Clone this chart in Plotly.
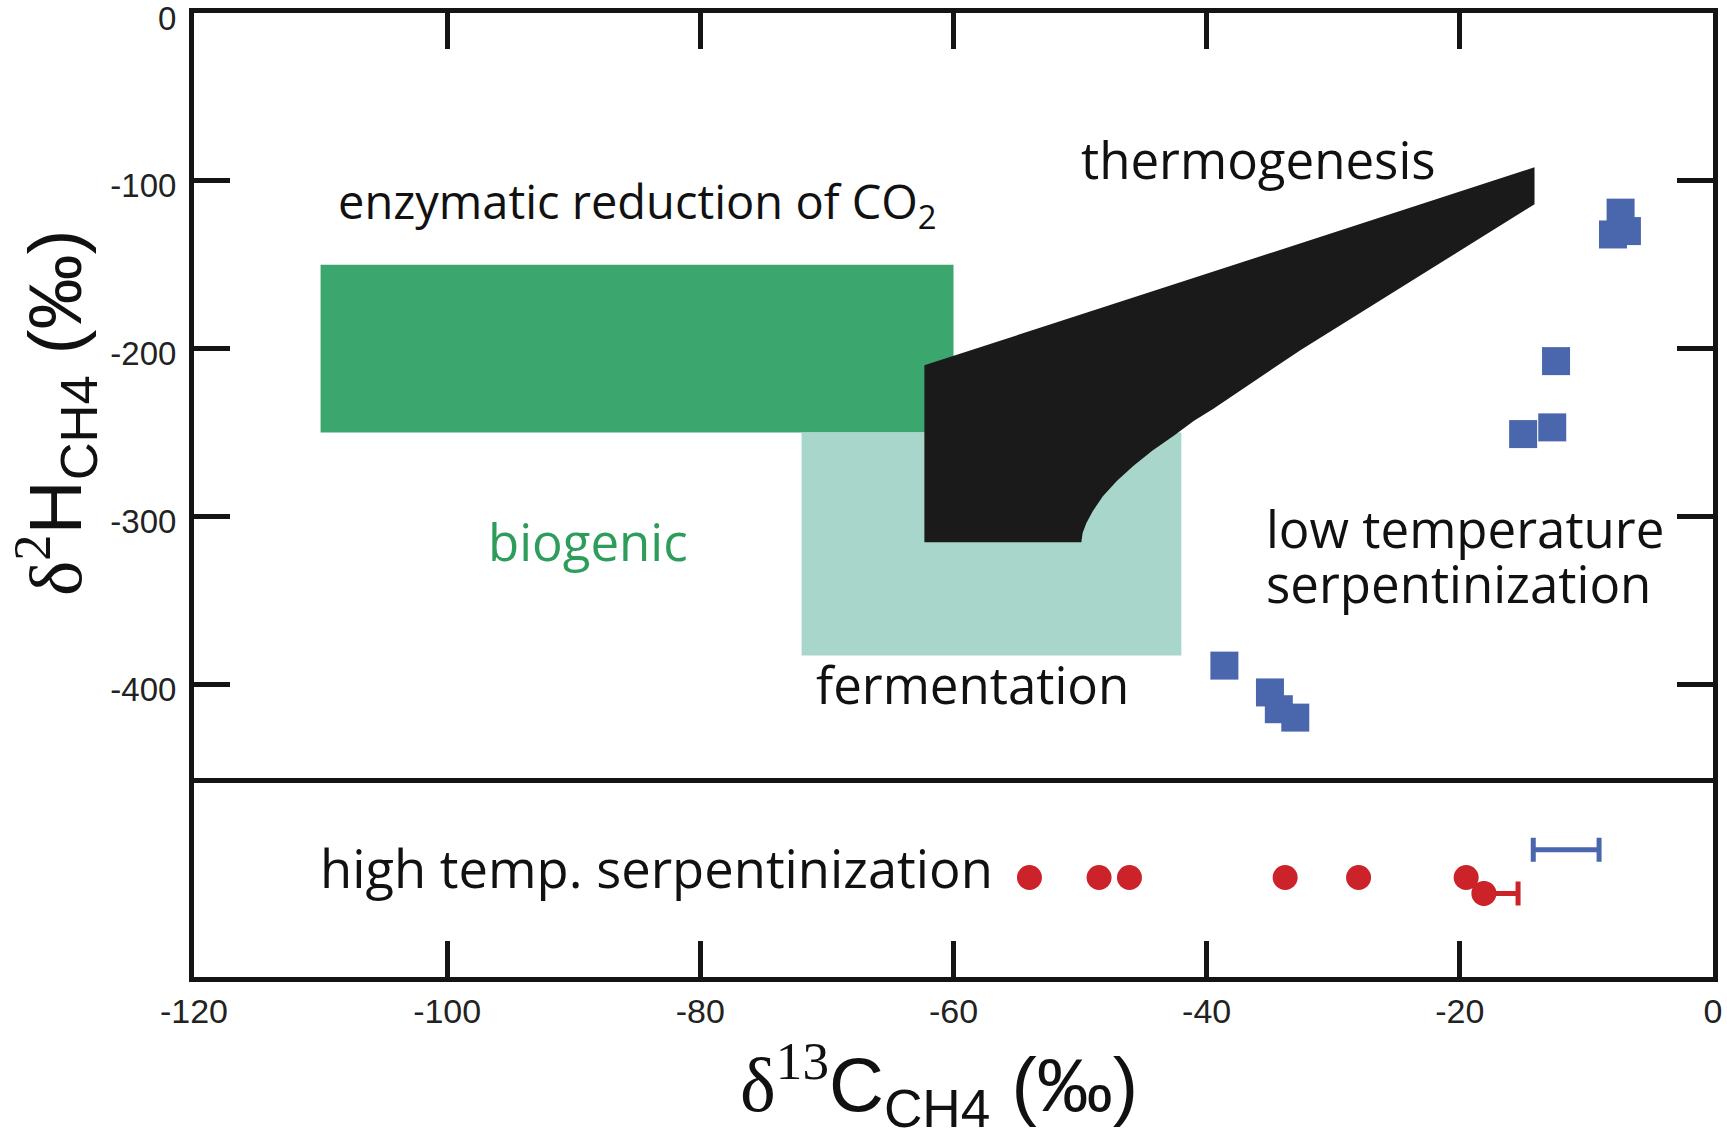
import plotly.graph_objects as go

# ---------------- data ----------------
# field boxes (d13C range, d2H range)
co2_red_c13 = [-110, -60]
co2_red_d2h = [-250, -150]
ferm_c13 = [-72, -42]
ferm_d2h = [-383, -250]

# thermogenesis field outline
thermo_c13 = [-62.3, -62.3, -14.1, -14.1, -32.6, -39.5, -41.0, -42.6, -44.3, -45.8,
              -47.1, -48.2, -49.0, -49.5, -49.8, -49.9]
thermo_d2h = [-315.5, -210, -92, -114, -201, -236, -243, -252, -261, -270,
              -279, -288, -297, -304, -310, -315.5]

# low temperature serpentinization samples
lt_c13 = [-7.3, -7.9, -6.8, -12.4, -15.0, -12.7, -38.6, -35.0, -34.3, -33.0]
lt_d2h = [-119, -132, -130, -207.5, -251, -247, -389, -405, -415, -420]

# high temperature serpentinization samples (d13C only)
ht_c13 = [-54.0, -48.5, -46.1, -33.8, -28.0, -19.5]
ht_row = [0.5, 0.5, 0.5, 0.5, 0.5, 0.5]
# sample with analytical uncertainty
ht_err_c13 = [-18.1]
ht_err_plus = [2.7]
ht_err_row = [0.42]

# range bar (no marker)
bar_c13 = [-11.6]
bar_err = [2.6]
bar_row = [0.64]

x_ticks = [-120, -100, -80, -60, -40, -20, 0]
x_ticktext = ["-120", "-100", "-80", "-60", "-40", "-20", "0"]
y_ticks = [0, -100, -200, -300, -400]
y_ticktext = ["0", "-100", "-200", "-300", "-400"]

# ---------------- styles ----------------
DARK_GREEN = "#3ba66e"
LIGHT_TEAL = "#a9d6cb"
BLACK = "#1a1a1a"
BLUE = "#4a66ac"
RED = "#cc2229"
AX = "#141414"
LABEL_FONT = "Open Sans"
TICK_FONT = "Liberation Sans"

fig = go.Figure()

# boxes
fig.add_trace(go.Scatter(
    x=[co2_red_c13[0], co2_red_c13[1], co2_red_c13[1], co2_red_c13[0], co2_red_c13[0]],
    y=[co2_red_d2h[0], co2_red_d2h[0], co2_red_d2h[1], co2_red_d2h[1], co2_red_d2h[0]],
    fill="toself", fillcolor=DARK_GREEN, mode="lines", line=dict(width=0, color=DARK_GREEN),
    xaxis="x", yaxis="y", showlegend=False, hoverinfo="skip"))
fig.add_trace(go.Scatter(
    x=[ferm_c13[0], ferm_c13[1], ferm_c13[1], ferm_c13[0], ferm_c13[0]],
    y=[ferm_d2h[0], ferm_d2h[0], ferm_d2h[1], ferm_d2h[1], ferm_d2h[0]],
    fill="toself", fillcolor=LIGHT_TEAL, mode="lines", line=dict(width=0, color=LIGHT_TEAL),
    xaxis="x", yaxis="y", showlegend=False, hoverinfo="skip"))
fig.add_trace(go.Scatter(
    x=thermo_c13 + [thermo_c13[0]], y=thermo_d2h + [thermo_d2h[0]],
    fill="toself", fillcolor=BLACK, mode="lines", line=dict(width=0, color=BLACK),
    xaxis="x", yaxis="y", showlegend=False, hoverinfo="skip"))

# low temperature samples
fig.add_trace(go.Scatter(
    x=lt_c13, y=lt_d2h, mode="markers",
    marker=dict(symbol="square", size=28, color=BLUE, line=dict(width=0)),
    xaxis="x", yaxis="y", showlegend=False))

# high temperature samples
fig.add_trace(go.Scatter(
    x=ht_err_c13, y=ht_err_row, mode="markers",
    marker=dict(symbol="circle", size=25, color=RED, line=dict(width=0)),
    error_x=dict(type="data", symmetric=False, array=ht_err_plus, arrayminus=[0],
                 color=RED, thickness=5, width=12),
    xaxis="x2", yaxis="y2", showlegend=False))
fig.add_trace(go.Scatter(
    x=ht_c13, y=ht_row, mode="markers",
    marker=dict(symbol="circle", size=25, color=RED, line=dict(width=0)),
    xaxis="x2", yaxis="y2", showlegend=False))
fig.add_trace(go.Scatter(
    x=bar_c13, y=bar_row, mode="markers",
    marker=dict(size=1, color="rgba(0,0,0,0)"),
    error_x=dict(type="data", array=bar_err, color=BLUE, thickness=5, width=12),
    xaxis="x2", yaxis="y2", showlegend=False))

split = 199 / 964

axis_common = dict(showgrid=False, zeroline=False, showline=True, linewidth=5, automargin=False,
                   linecolor=AX, ticks="inside", ticklen=36, tickwidth=5, tickcolor=AX)

fig.update_layout(
    width=1727, height=1144,
    margin=dict(l=194, r=14, t=13, b=167, autoexpand=False),
    paper_bgcolor="white", plot_bgcolor="white",
    xaxis=dict(domain=[0, 1], range=[-120, 0], anchor="y", side="top", mirror=True,
               tickvals=x_ticks[1:-1], showticklabels=False, **axis_common),
    xaxis2=dict(domain=[0, 1], range=[-120, 0], anchor="y2", side="bottom", mirror=False,
                tickvals=x_ticks, ticktext=x_ticktext, ticklabelstandoff=0,
                ticklabeloverflow="allow",
                tickfont=dict(family=TICK_FONT, size=34, color="#222"), **axis_common),
    yaxis=dict(domain=[split, 1], range=[-456, 0], anchor="x", mirror="ticks",
               tickvals=y_ticks, ticktext=y_ticktext, ticklabelstandoff=6,
               ticklabeloverflow="allow", ticklabelshift=5,
               tickfont=dict(family=TICK_FONT, size=33, color="#222"), **axis_common),
    yaxis2=dict(domain=[0, split], range=[0, 1], anchor="x2", mirror=True, automargin=False,
                showgrid=False, zeroline=False, showline=True, linewidth=5, linecolor=AX,
                ticks="", showticklabels=False),
)

def label(text, x, y, xref="x", yref="y", color="#111", size=51):
    fig.add_annotation(text=text, x=x, y=y, xref=xref, yref=yref, showarrow=False,
                       xanchor="left", yanchor="middle",
                       font=dict(family=LABEL_FONT, size=size, color=color))

label("thermogenesis", -50.1, -87)
label("enzymatic reduction of CO<sub>2</sub>", -108.8, -114, size=47)
label("biogenic", -96.9, -315, color="#2e9d5c")
label("fermentation", -71.0, -400)
label("low temperature", -35.5, -307)
label("serpentinization", -35.5, -340)
label("high temp. serpentinization", -110.2, 0.55, xref="x2", yref="y2", size=52.5)

serif = "<span style=\"font-family:'Liberation Serif'\">"
fig.add_annotation(
    text=serif + "δ<sup>13</sup></span>C<sub>CH4</sub> (‰)",
    x=0.4905, y=-0.112, xref="paper", yref="paper", showarrow=False,
    xanchor="center", yanchor="middle",
    font=dict(family="Liberation Sans", size=76, color="#111"))
fig.add_annotation(
    text=serif + "δ<sup>2</sup></span>H<sub>CH4</sub> (‰)",
    x=-0.0915, y=0.585, xref="paper", yref="paper", showarrow=False, textangle=-90,
    xanchor="center", yanchor="middle",
    font=dict(family="Liberation Sans", size=75, color="#111"))

fig.write_html(
    "out.html",
    config={"displayModeBar": False},
    post_script="document.body.style.margin='0';document.body.style.overflow='hidden';",
)
